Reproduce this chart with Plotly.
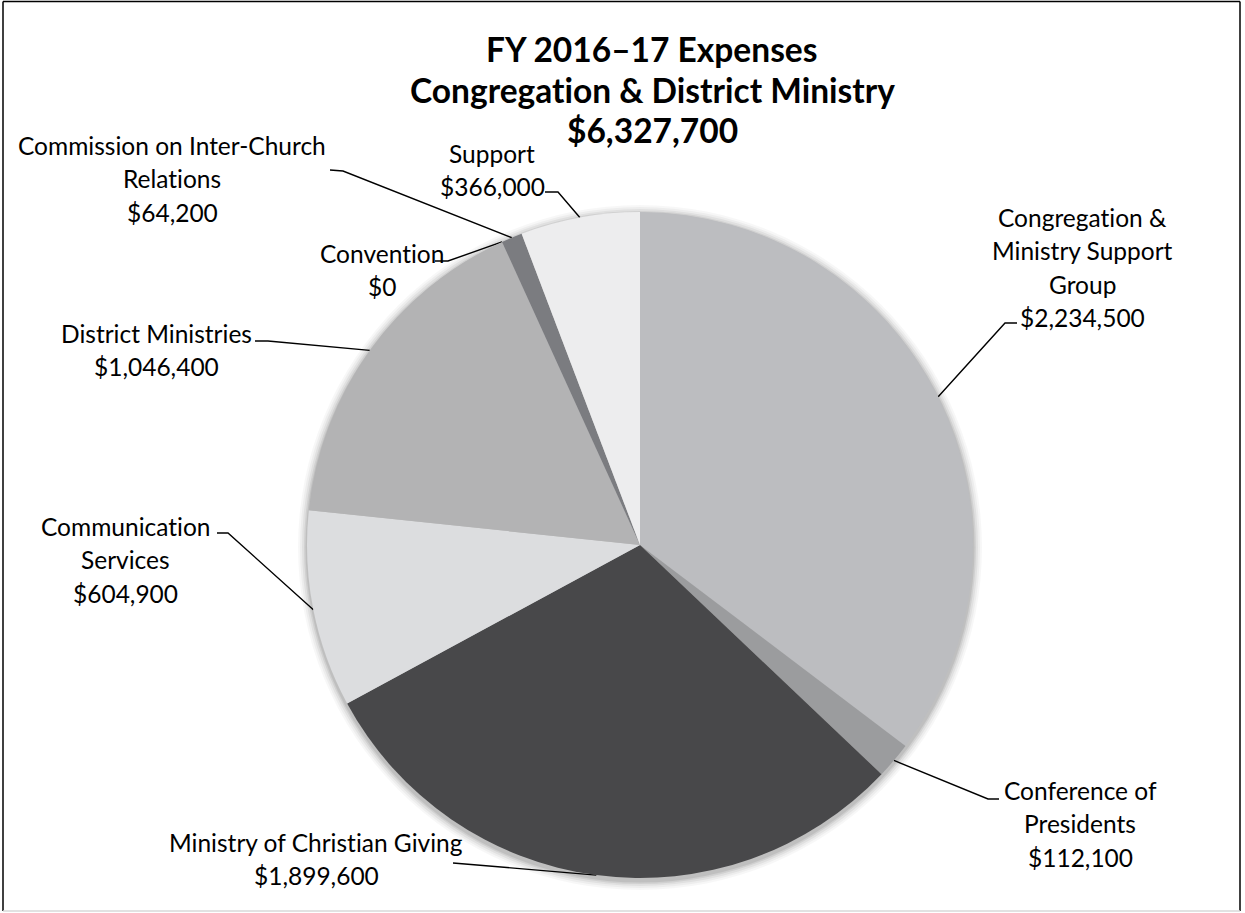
import math
import plotly.graph_objects as go

# ---------------- data ----------------
categories = [
    "Congregation & Ministry Support Group",
    "Conference of Presidents",
    "Ministry of Christian Giving",
    "Communication Services",
    "District Ministries",
    "Convention",
    "Commission on Inter-Church Relations",
    "Support",
]
values = [2234500, 112100, 1899600, 604900, 1046400, 0, 64200, 366000]
label_lines = [
    ["Congregation &", "Ministry Support", "Group"],
    ["Conference of", "Presidents"],
    ["Ministry of Christian Giving"],
    ["Communication", "Services"],
    ["District Ministries"],
    ["Convention"],
    ["Commission on Inter-Church", "Relations"],
    ["Support"],
]
title_lines = ["FY 2016\u201317 Expenses", "Congregation & District Ministry", "$6,327,700"]

# ---------------- styling / layout ----------------
W, H = 1245, 913
colors = ["#BCBDC0", "#9B9C9E", "#48484A", "#DCDDDF", "#B3B3B4", "#8A8B8E", "#7B7C80", "#EDEDEE"]
CX, CY, R = 640, 545, 333          # pie centre / radius in pixels
FONT = "Lato"
LABEL_SIZE = 24.5
LINE_GAP = 33.5
TITLE_SIZE = 33.5
TITLE_GAP = 40.5

# label placement: text centre x, first line y, leader start, elbow
label_pos = [
    dict(tx=1082, ty=217, start=(1017, 323), elbow=(1005, 323)),
    dict(tx=1080, ty=790, start=(999, 799), elbow=(988, 799)),
    dict(tx=316, ty=842, start=(453, 863), elbow=(453, 863)),
    dict(tx=125, ty=526, start=(217, 533), elbow=(228, 533)),
    dict(tx=156, ty=333, start=(255, 341), elbow=(268, 341)),
    dict(tx=382, ty=253, start=(435, 261), elbow=(448, 261)),
    dict(tx=172, ty=145, start=(330, 170), elbow=(343, 171)),
    dict(tx=492, ty=153, start=(545, 192), elbow=(558, 192)),
]


def no_lig(s):
    # zero-width non-joiner between t and i so the font's "ti" ligature is not used
    return s.replace("ti", "t\u200ci")


fig = go.Figure()

fig.add_trace(go.Pie(
    values=values, labels=categories, sort=False, direction="clockwise", rotation=0,
    marker=dict(colors=colors, line=dict(width=0)),
    textinfo="none", hoverinfo="label+value", showlegend=False,
    domain=dict(x=[(CX - R) / W, (CX + R) / W], y=[(H - CY - R) / H, (H - CY + R) / H]),
))

total = sum(values)
cum = 0
annotations = []
for i, v in enumerate(values):
    mid = (cum + v / 2) / total * 2 * math.pi
    cum += v
    ax = CX + R * math.sin(mid)
    ay = CY - R * math.cos(mid)
    p = label_pos[i]
    fig.add_trace(go.Scatter(
        x=[p["start"][0], p["elbow"][0], ax], y=[p["start"][1], p["elbow"][1], ay],
        mode="lines", line=dict(color="black", width=1.4), hoverinfo="skip", showlegend=False,
    ))
    lines = label_lines[i] + ["${:,.0f}".format(v)]
    for k, t in enumerate(lines):
        annotations.append(dict(
            x=p["tx"], y=p["ty"] + k * LINE_GAP, xref="x", yref="y", text=no_lig(t), showarrow=False,
            xanchor="center", yanchor="middle", font=dict(family=FONT, size=LABEL_SIZE, color="black"),
        ))

for k, t in enumerate(title_lines):
    annotations.append(dict(
        x=652, y=49 + k * TITLE_GAP, xref="x", yref="y", text="<b>" + no_lig(t) + "</b>", showarrow=False,
        xanchor="center", yanchor="middle", font=dict(family=FONT, size=TITLE_SIZE, color="black"),
    ))

shapes = []
# soft shadow around the pie
for dr, op in [(9, 0.03), (7, 0.04), (5, 0.05), (3, 0.07), (1.5, 0.08)]:
    shapes.append(dict(type="circle", xref="x", yref="y", layer="below",
                       x0=CX - R - dr, x1=CX + R + dr, y0=CY - R - dr + 2, y1=CY + R + dr + 3,
                       fillcolor="rgba(0,0,0,%g)" % op, line=dict(width=0)))
shapes += [
    dict(type="line", x0=3, x1=1240, y0=1.5, y1=1.5, xref="x", yref="y", line=dict(color="black", width=1.5)),
    dict(type="line", x0=3, x1=3, y0=1.5, y1=911, xref="x", yref="y", line=dict(color="black", width=1.5)),
    dict(type="line", x0=1240, x1=1240, y0=1.5, y1=911, xref="x", yref="y", line=dict(color="black", width=1.5)),
    dict(type="line", x0=3, x1=1240, y0=911, y1=911, xref="x", yref="y", line=dict(color="#D9D9D9", width=1.5)),
]

fig.update_layout(
    width=W, height=H, margin=dict(l=0, r=0, t=0, b=0),
    paper_bgcolor="white", plot_bgcolor="rgba(0,0,0,0)",
    xaxis=dict(range=[0, W], visible=False, fixedrange=True),
    yaxis=dict(range=[H, 0], visible=False, fixedrange=True),
    annotations=annotations, shapes=shapes,
)

fig.write_html("out.html", config={"displayModeBar": False},
               post_script="document.body.style.margin='0';document.body.style.overflow='hidden';")
